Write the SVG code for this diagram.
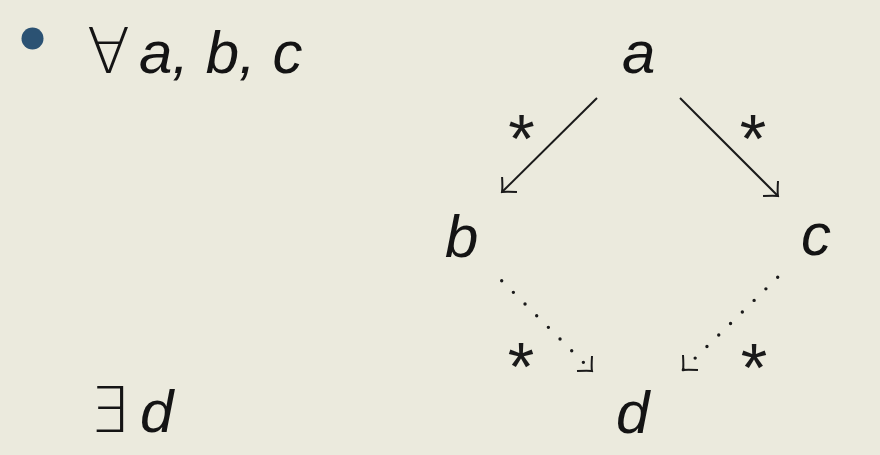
<svg xmlns="http://www.w3.org/2000/svg" width="880" height="455" viewBox="0 0 880 455">
  <defs>
    <style>
      .lbl { font-family: "Liberation Sans", Arial, sans-serif; font-style: italic; font-size: 60px; fill: #141414; }
      .sym { font-family: "DejaVu Sans", sans-serif; font-weight: 200; font-size: 63px; fill: #141414; }
      .star { font-family: "Liberation Sans", Arial, sans-serif; font-size: 68px; fill: #1a1a1a; text-anchor: middle; }
      .edge { fill: none; stroke: #1a1a1a; stroke-width: 2; }
      .dot { fill: none; stroke: #1a1a1a; stroke-width: 3.4; stroke-linecap: round; stroke-dasharray: 0 16.5; }
    </style>
    <marker id="tip" markerUnits="userSpaceOnUse" orient="auto" viewBox="-14 -14 16 28" markerWidth="16" markerHeight="28" refX="0" refY="0">
      <path d="M -10.6 -10.6 Q -3 -2 0 0 Q -3 2 -10.6 10.6" fill="none" stroke="#1a1a1a" stroke-width="2"/>
    </marker>
  </defs>
  <rect width="880" height="455" fill="#ebeadd"/>

  <g id="bullet">
    <circle cx="32.5" cy="38.5" r="11" fill="#2b5273"/>
  </g>
  <g id="forall">
    <text class="sym" x="87" y="73">∀</text>
    <text class="lbl" x="139" y="73">a, b, c</text>
  </g>
  <g id="exists">
    <text class="sym" x="89" y="432">∃</text>
    <text class="lbl" x="140" y="432">d</text>
  </g>

  <g id="node-a"><text class="lbl" x="622" y="73">a</text></g>
  <g id="node-b"><text class="lbl" x="445" y="257">b</text></g>
  <g id="node-c"><text class="lbl" x="801" y="255">c</text></g>
  <g id="node-d"><text class="lbl" x="616" y="433">d</text></g>

  <g id="connectors">
    <path class="edge" d="M 597 98 L 502 192" marker-end="url(#tip)"/>
    <path class="edge" d="M 680 98 L 778 196" marker-end="url(#tip)"/>
    <path class="dot" d="M 501.7 280.7 L 592 371"/>
    <path class="edge" d="M 591 370 L 592 371" marker-end="url(#tip)" style="stroke:none"/>
    <path class="dot" d="M 777.7 277.3 L 683 370"/>
    <path class="edge" d="M 684 369 L 683 370" marker-end="url(#tip)" style="stroke:none"/>
    <text class="star" x="521.5" y="162">*</text>
    <text class="star" x="753" y="162">*</text>
    <text class="star" x="521" y="390">*</text>
    <text class="star" x="754" y="391">*</text>
  </g>
</svg>
